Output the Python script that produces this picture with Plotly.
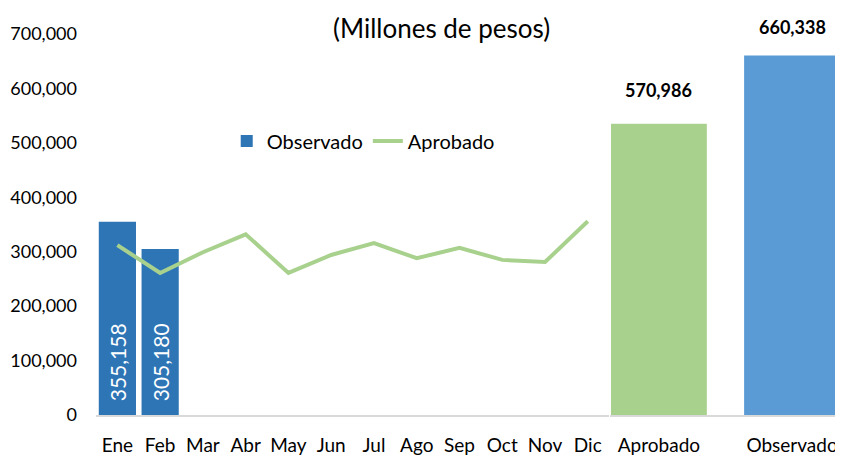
import plotly.graph_objects as go

months = ["Ene", "Feb", "Mar", "Abr", "May", "Jun", "Jul", "Ago", "Sep", "Oct", "Nov", "Dic"]
observado_mensual = [355158, 305180, None, None, None, None, None, None, None, None, None, None]
aprobado_mensual = [312000, 261000, 299000, 332000, 261000, 294000, 316000, 288000, 307000, 285000, 281000, 356000]

total_cats = ["Aprobado", "Observado"]
total_values = [535000, 660338]
total_labels = ["570,986", "660,338"]
total_colors = ["#A9D18E", "#5B9BD5"]

FONT = "Lato"
fig = go.Figure()

fig.add_trace(go.Bar(
    x=months, y=observado_mensual, name="Observado",
    marker=dict(color="#2E75B6", line=dict(width=0)),
    width=0.87,
    text=[("\u00a0\u00a0" + f"{v:,}") if v is not None else "" for v in observado_mensual],
    textposition="inside", insidetextanchor="start", textangle=-90,
    textfont=dict(color="white", size=21, family=FONT),
    xaxis="x", yaxis="y",
))

fig.add_trace(go.Scatter(
    x=months, y=aprobado_mensual, name="Aprobado", mode="lines",
    line=dict(color="#A9D18E", width=4),
    xaxis="x", yaxis="y",
))

fig.add_trace(go.Bar(
    x=total_cats, y=total_values, showlegend=False,
    marker=dict(color=total_colors, line=dict(width=0)),
    width=0.72,
    xaxis="x2", yaxis="y",
))

shifts = [34, 29]
for c, v, lab, s in zip(total_cats, total_values, total_labels, shifts):
    fig.add_annotation(x=c, y=v, xref="x2", yref="y", text=f"<b>{lab}</b>",
                       showarrow=False, yshift=s, yanchor="middle",
                       font=dict(size=18, family=FONT, color="black"))

fig.add_annotation(text="(Millones de pesos)", xref="paper", yref="paper",
                   x=0.4625, y=1.0, yanchor="middle", yshift=6, showarrow=False,
                   font=dict(size=26, family=FONT, color="black"))

# page body has an 8px default margin, so the figure is 8px smaller each way
fig.update_layout(
    width=835, height=449,
    margin=dict(l=88, r=0, t=26, b=42),
    paper_bgcolor="white", plot_bgcolor="white",
    font=dict(family=FONT, size=18, color="black"),
    showlegend=True,
    legend=dict(orientation="h", x=0.175, y=0.719, xanchor="left", yanchor="middle",
                bgcolor="rgba(0,0,0,0)", font=dict(size=20, family=FONT)),
    xaxis=dict(domain=[0, 0.687], type="category", showgrid=False, zeroline=False,
               showline=True, linecolor="#D9D9D9", linewidth=1.5, ticks="",
               automargin=False,
               ticklabelstandoff=12, tickfont=dict(size=19, family=FONT)),
    xaxis2=dict(domain=[0.688, 1], type="category", anchor="y", range=[-0.368, 1.383],
                showgrid=False, zeroline=False, showline=True, linecolor="#D9D9D9",
                linewidth=1.5, ticks="", ticklabelstandoff=12, automargin=False,
                tickfont=dict(size=19, family=FONT)),
    yaxis=dict(range=[0, 700000], tickvals=[0, 100000, 200000, 300000, 400000, 500000, 600000, 700000],
               tickformat=",", showgrid=False, zeroline=False, showline=False,
               automargin=False,
               ticklabelstandoff=18, tickfont=dict(size=18, family=FONT)),
)

fig.write_html("out.html")
